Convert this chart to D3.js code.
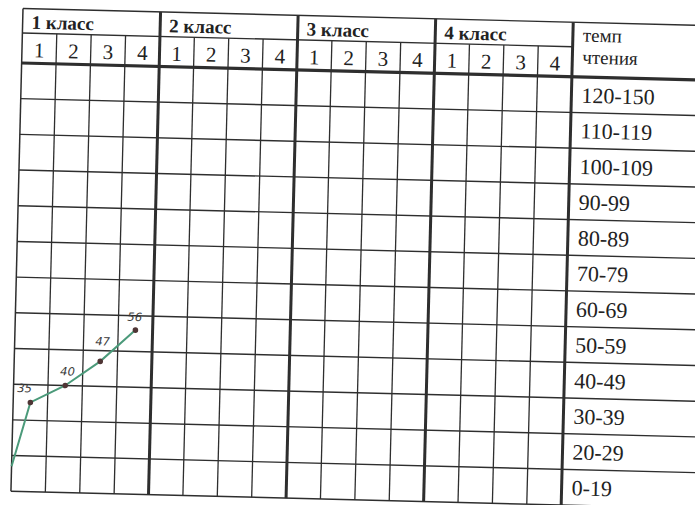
<!DOCTYPE html>
<html>
<head>
<meta charset="utf-8">
<script src="https://cdn.jsdelivr.net/npm/d3@7"></script>
<style>
  body { margin: 0; background: #fff; }
  svg { display: block; }
  .serif { font-family: "Liberation Serif", "Times New Roman", "DejaVu Serif", serif; }
</style>
</head>
<body>
<div id="chart"></div>
<script>
// data
var classes = ["1 класс", "2 класс", "3 класс", "4 класс"];
var quarters = ["1", "2", "3", "4"];
var speedBands = ["120-150", "110-119", "100-109", "90-99", "80-89", "70-79",
                  "60-69", "50-59", "40-49", "30-39", "20-29", "0-19"];
var headerTitle = ["темп", "чтения"];
// quarter number counted from the start of 1st grade (0 = start of the year, left edge)
var readingQuarter = [0, 1, 2, 3, 4];
var readingSpeed = [17, 35, 40, 47, 56];
var readingLabel = ["", "35", "40", "47", "56"];

function chart() {
    var width = 695, height = 505;
    var colW = 34.4, labelW = 150;
    var head1 = 24.5, head2 = 30, rowH = 35.7;
    var top = head1 + head2;
    var nCols = classes.length * quarters.length;

    var x = d3.scaleLinear().domain([0, nCols]).range([0, nCols * colW]);
    var row = d3.scaleBand().domain(speedBands).range([top, top + speedBands.length * rowH]);
    var y = d3.scaleLinear().domain([20, 120]).range([row("0-19"), row("110-119")]);
    var gridR = x(nCols);

    var svg = d3.select("#chart").append("svg")
        .attr("width", width)
        .attr("height", height);
    svg.append("rect").attr("width", width).attr("height", height).attr("fill", "#fff");

    // the sheet is scanned a little tilted
    var g = svg.append("g")
        .attr("transform", "translate(23,8.5) rotate(1.43)");

    var ink = "#2e2e2e";
    var bottom = top + speedBands.length * rowH;

    // horizontal row lines
    g.append("g").selectAll("line")
        .data(speedBands.slice(1))
        .enter().append("line")
        .attr("x1", 0).attr("x2", gridR + labelW)
        .attr("y1", d => row(d)).attr("y2", d => row(d))
        .attr("stroke", ink).attr("stroke-width", 1.4);
    g.append("line")
        .attr("x1", 0).attr("x2", gridR + labelW)
        .attr("y1", bottom).attr("y2", bottom)
        .attr("stroke", ink).attr("stroke-width", 1.5);

    // quarter columns
    var cols = d3.range(1, nCols).filter(i => i % 4 != 0);
    g.append("g").selectAll("line")
        .data(cols)
        .enter().append("line")
        .attr("x1", d => x(d)).attr("x2", d => x(d))
        .attr("y1", head1).attr("y2", bottom)
        .attr("stroke", ink).attr("stroke-width", 1.3);

    // header lines
    g.append("line").attr("x1", 0).attr("x2", gridR + labelW).attr("y1", 0).attr("y2", 0)
        .attr("stroke", ink).attr("stroke-width", 1.4);
    g.append("line").attr("x1", 0).attr("x2", gridR).attr("y1", head1).attr("y2", head1)
        .attr("stroke", ink).attr("stroke-width", 1.3);
    g.append("line").attr("x1", 0).attr("x2", gridR + labelW).attr("y1", top).attr("y2", top)
        .attr("stroke", ink).attr("stroke-width", 3.2);
    g.append("line").attr("x1", 0).attr("x2", 0).attr("y1", 0).attr("y2", bottom)
        .attr("stroke", ink).attr("stroke-width", 1.5);

    // class separators (thick)
    g.append("g").selectAll("line")
        .data(d3.range(1, classes.length + 1))
        .enter().append("line")
        .attr("x1", d => x(d * 4)).attr("x2", d => x(d * 4))
        .attr("y1", 0).attr("y2", bottom)
        .attr("stroke", ink).attr("stroke-width", 3);

    // class titles
    g.append("g").selectAll("text")
        .data(classes)
        .enter().append("text")
        .attr("class", "serif")
        .attr("x", (d, i) => x(i * 4) + 9)
        .attr("y", 20)
        .attr("font-weight", "bold")
        .attr("font-size", 19)
        .attr("fill", "#222")
        .text(d => d);

    // quarter numbers
    g.append("g").selectAll("text")
        .data(d3.range(nCols))
        .enter().append("text")
        .attr("class", "serif")
        .attr("x", d => x(d + 0.5))
        .attr("y", head1 + 24)
        .attr("text-anchor", "middle")
        .attr("font-size", 21)
        .attr("fill", "#222")
        .text(d => quarters[d % 4]);

    // right column title
    g.append("g").selectAll("text")
        .data(headerTitle)
        .enter().append("text")
        .attr("class", "serif")
        .attr("x", gridR + 10)
        .attr("y", (d, i) => 19 + i * 22)
        .attr("font-size", 19)
        .attr("fill", "#222")
        .text(d => d);

    // speed bands
    g.append("g").selectAll("text")
        .data(speedBands)
        .enter().append("text")
        .attr("class", "serif")
        .attr("x", gridR + 10)
        .attr("y", d => row(d) + rowH - 10)
        .attr("font-size", 22)
        .attr("fill", "#222")
        .text(d => d);

    // reading line
    var pts = readingQuarter.map(function(q, i) {
        return {
            x: q == 0 ? x(0) : x(q - 0.5),
            y: y(readingSpeed[i]),
            label: readingLabel[i]
        };
    });
    var line = d3.line().x(d => d.x).y(d => d.y);
    g.append("path")
        .datum(pts)
        .attr("d", line)
        .attr("fill", "none")
        .attr("stroke", "#4b9a7a")
        .attr("stroke-width", 2);

    var marks = pts.filter(d => d.label != "");
    var ldx = [-6, 2, 2, -1], ldy = [-10, -10, -16, -9];
    g.append("g").selectAll("circle")
        .data(marks)
        .enter().append("circle")
        .attr("cx", d => d.x).attr("cy", d => d.y)
        .attr("r", 2.8)
        .attr("fill", "#4f3535");
    g.append("g").selectAll("text")
        .data(marks)
        .enter().append("text")
        .attr("x", (d, i) => d.x + ldx[i])
        .attr("y", (d, i) => d.y + ldy[i])
        .attr("text-anchor", "middle")
        .attr("font-family", "DejaVu Sans")
        .attr("font-style", "italic")
        .attr("font-size", 11.5)
        .attr("fill", "#3a3a3a")
        .text(d => d.label);
}
chart();
</script>
</body>
</html>
